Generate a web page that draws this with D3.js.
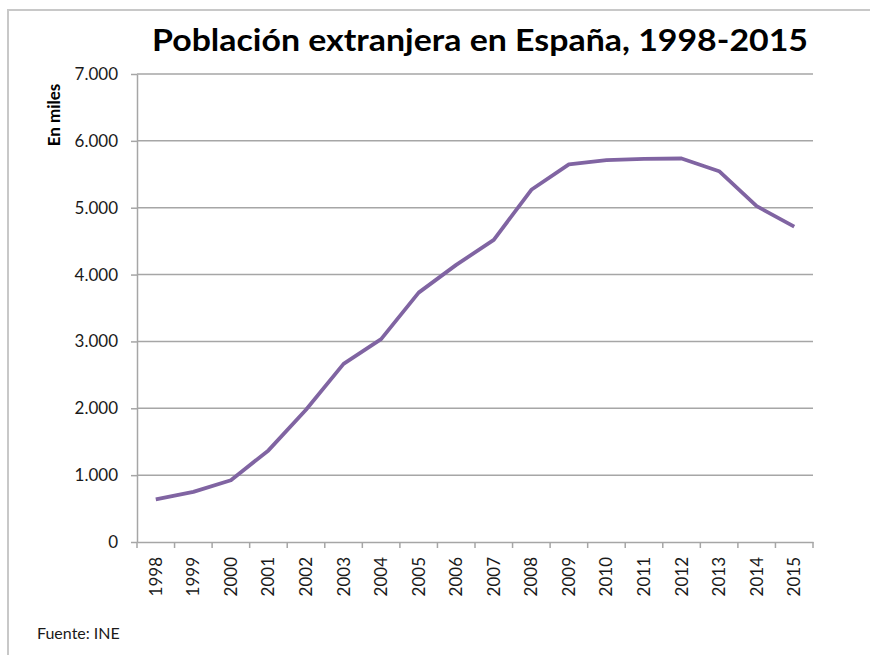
<!DOCTYPE html>
<html>
<head>
<meta charset="utf-8">
<script src="https://cdn.jsdelivr.net/npm/d3@7"></script>
<style>
    body { margin: 0; background: #fff; }
    svg text { font-family: Lato, "Noto Sans", sans-serif; fill: #111; }
</style>
</head>
<body>
<div id="chart"></div>
<script>
// data (miles de personas)
const years = ["1998","1999","2000","2001","2002","2003","2004","2005","2006",
               "2007","2008","2009","2010","2011","2012","2013","2014","2015"];
const population = [637, 749, 924, 1370, 1977, 2664, 3034, 3730, 4145,
                    4519, 5268, 5648, 5711, 5731, 5736, 5546, 5023, 4718];
const yTicks = [0, 1000, 2000, 3000, 4000, 5000, 6000, 7000];

let margin = { top: 74, right: 57, bottom: 113, left: 137 };
let totalW = 870, totalH = 655;
let width = totalW - margin.left - margin.right;
let height = totalH - margin.top - margin.bottom;

let svg = d3.select("#chart").append("svg")
    .attr("width", totalW)
    .attr("height", totalH);

// outer frame
svg.append("path")
    .attr("d", "M8,660 L8,10 L875,10")
    .attr("fill", "none")
    .attr("stroke", "#c8c8c8")
    .attr("stroke-width", 2);

let x = d3.scaleBand().domain(years).range([0, width]);
let y = d3.scaleLinear().domain([0, 7000]).range([height, 0]);

let g = svg.append("g")
    .attr("transform", "translate(" + margin.left + "," + margin.top + ")");

// gridlines
g.selectAll(".grid")
    .data(yTicks.filter(d => d > 0))
    .enter().append("line")
    .attr("x1", 0).attr("x2", width)
    .attr("y1", d => y(d)).attr("y2", d => y(d))
    .attr("stroke", "#a6a6a6")
    .attr("stroke-width", 1.5);

// y axis
let fmt = d3.formatLocale({ decimal: ",", thousands: ".", grouping: [3], currency: ["", ""] }).format(",");
let yAxis = g.append("g")
    .call(d3.axisLeft(y).tickValues(yTicks).tickSize(6).tickSizeOuter(0).tickPadding(13).tickFormat(fmt));
yAxis.select(".domain").attr("stroke", "#a6a6a6").attr("stroke-width", 1.5);
yAxis.selectAll(".tick line").attr("stroke", "#a6a6a6").attr("stroke-width", 1.5);
yAxis.selectAll(".tick text")
    .style("font-size", "17px")
    .style("fill", "#1a1a1a");

// x axis
let xAxis = g.append("g")
    .attr("transform", "translate(0," + height + ")")
    .call(d3.axisBottom(x).tickSize(0).tickFormat(""));
xAxis.select(".domain").attr("stroke", "#a6a6a6").attr("stroke-width", 1.5);

// tick marks between categories
let boundaries = years.map(d => x(d)).concat([width]);
g.selectAll(".xtick")
    .data(boundaries)
    .enter().append("line")
    .attr("x1", d => d).attr("x2", d => d)
    .attr("y1", height).attr("y2", height + 6)
    .attr("stroke", "#a6a6a6")
    .attr("stroke-width", 1.5);

g.selectAll(".xlabel")
    .data(years)
    .enter().append("text")
    .attr("transform", d => "translate(" + (x(d) + x.bandwidth() / 2 + 6) + "," + (height + 15) + ") rotate(-90)")
    .attr("text-anchor", "end")
    .style("font-size", "17px")
    .style("fill", "#1a1a1a")
    .text(d => d);

// line
let line = d3.line()
    .x((d, i) => x(years[i]) + x.bandwidth() / 2)
    .y(d => y(d));

g.append("path")
    .datum(population)
    .attr("fill", "none")
    .attr("stroke", "#8064a2")
    .attr("stroke-width", 3.8)
    .attr("stroke-linejoin", "round")
    .attr("d", line);

// title
svg.append("text")
    .attr("x", 152).attr("y", 51)
    .attr("textLength", 656)
    .attr("lengthAdjust", "spacingAndGlyphs")
    .style("font-size", "31px")
    .style("font-weight", "bold")
    .style("fill", "#000")
    .text("Población extranjera en España, 1998-2015");

// y axis title
svg.append("text")
    .attr("transform", "translate(60,115) rotate(-90)")
    .attr("text-anchor", "middle")
    .style("font-size", "17px")
    .style("font-weight", "bold")
    .style("fill", "#000")
    .text("En miles");

// source
svg.append("text")
    .attr("x", 37).attr("y", 639)
    .style("font-size", "16px")
    .style("fill", "#1a1a1a")
    .text("Fuente: INE");
</script>
</body>
</html>
